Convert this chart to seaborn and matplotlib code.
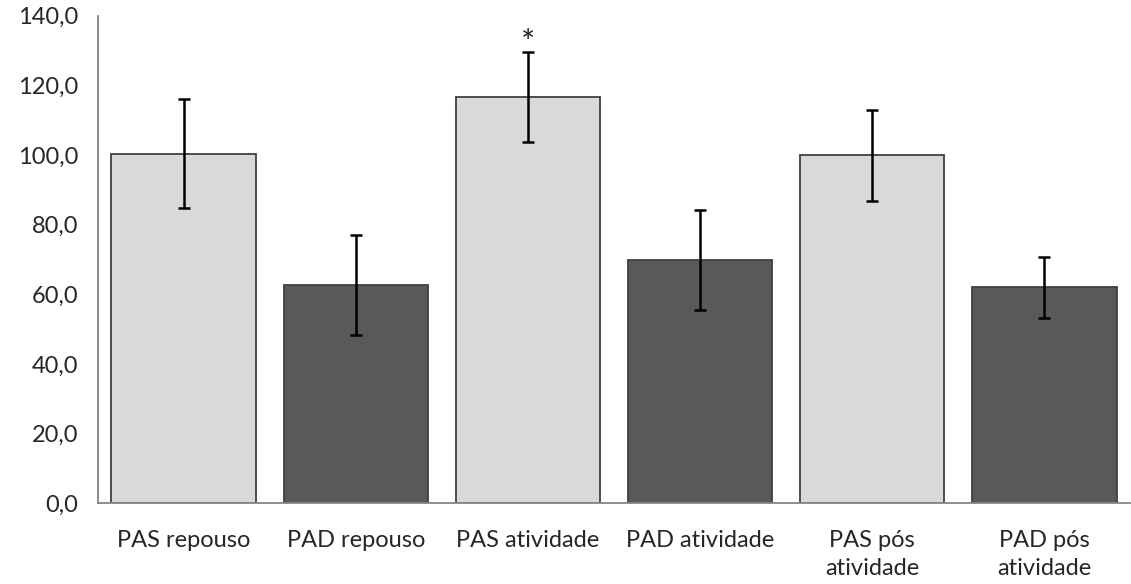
import matplotlib.pyplot as plt
import pandas as pd
import seaborn as sns
from matplotlib.ticker import FuncFormatter

CATEGORIES = [
    "PAS repouso",
    "PAD repouso",
    "PAS atividade",
    "PAD atividade",
    "PAS pós\natividade",
    "PAD pós\natividade",
]
MEANS = [100.4, 62.7, 116.8, 69.9, 99.9, 62.0]
SD = [15.7, 14.3, 12.9, 14.3, 13.1, 8.8]
Y_TICKS = [0, 20, 40, 60, 80, 100, 120, 140]

LIGHT = "#D9D9D9"
DARK = "#595959"
AXIS_GREY = "#868686"

DATA = pd.DataFrame({"grupo": CATEGORIES, "media": MEANS, "dp": SD})

sns.set_style("white")
plt.rcParams["font.family"] = ["Lato", "DejaVu Sans"]

fig = plt.figure(figsize=(11.31, 5.84), dpi=100)
ax = fig.add_axes([0.0864, 0.138, 0.913, 0.835])

sns.barplot(
    data=DATA,
    x="grupo",
    y="media",
    hue="grupo",
    palette=[LIGHT, DARK] * 3,
    legend=False,
    width=0.84,
    edgecolor="#404040",
    linewidth=1.3,
    errorbar=None,
    ax=ax,
)

# desvio padrao
ax.errorbar(
    x=range(len(DATA)),
    y=DATA["media"],
    yerr=DATA["dp"],
    fmt="none",
    ecolor="black",
    elinewidth=1.8,
    capsize=4.5,
    capthick=1.8,
)

# diferenca significativa
ax.text(2, MEANS[2] + SD[2] - 2.2, "*", ha="center", va="bottom", fontsize=24)

ax.set_ylim(0, 140)
ax.set_xlim(-0.5, len(CATEGORIES) - 0.5)
ax.set_yticks(Y_TICKS)
ax.yaxis.set_major_formatter(FuncFormatter(lambda v, _: f"{v:.1f}".replace(".", ",")))

ax.set_xticks([i - 0.5 for i in range(len(CATEGORIES) + 1)], minor=True)
ax.set_xticks(range(len(CATEGORIES)))
ax.set_xticklabels(CATEGORIES, linespacing=1.45)
ax.tick_params(axis="x", which="major", length=0, pad=19, labelsize=17)
ax.tick_params(axis="x", which="minor", length=8, width=1.3, color=AXIS_GREY, direction="out")
ax.tick_params(axis="y", length=8, width=1.3, color=AXIS_GREY, direction="out", labelsize=17, pad=6)

for side in ["top", "right"]:
    ax.spines[side].set_visible(False)
for side in ["left", "bottom"]:
    ax.spines[side].set_color(AXIS_GREY)
    ax.spines[side].set_linewidth(1.3)

ax.set_xlabel("")
ax.set_ylabel("")

fig.savefig("out.png", dpi=100)
